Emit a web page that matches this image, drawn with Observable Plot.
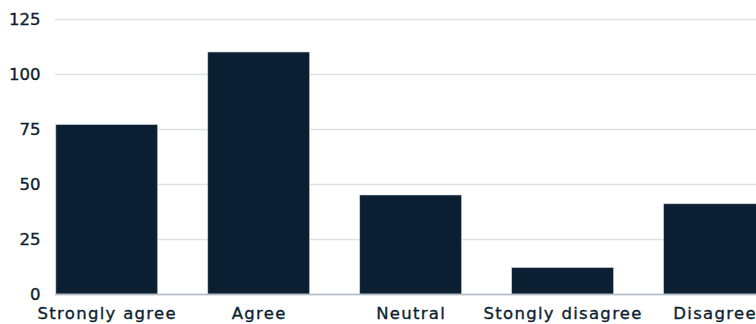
<!DOCTYPE html>
<html><head><meta charset="utf-8">
<script src="https://cdn.jsdelivr.net/npm/d3@7"></script>
<script src="https://cdn.jsdelivr.net/npm/@observablehq/plot@0.6"></script>
<style>
body{margin:0;background:#fff;overflow:hidden}
svg{overflow:hidden}
g[aria-label="x-axis tick label"] text{letter-spacing:1.3px}
g[aria-label="x-axis tick label"] text, g[aria-label="y-axis tick label"] text{stroke:#0b1f33;stroke-width:0.35px}
</style>
</head><body><div id="chart"></div>
<script>
const categories = ["Strongly agree", "Agree", "Neutral", "Stongly disagree", "Disagree"];
const values = [77, 110, 45, 12, 41];
const yTicks = [0, 25, 50, 75, 100, 125];
const data = categories.map((c, i) => ({category: c, value: values[i]}));
const ink = "#0b1f33";
const chart = Plot.plot({
  width: 756, height: 324,
  marginTop: 19, marginBottom: 30, marginLeft: 55, marginRight: 0,
  style: {fontFamily: "'DejaVu Sans', sans-serif", fontSize: "16px", color: ink, background: "#fff", maxWidth: "none"},
  x: {domain: categories, range: [5.7, 815.6], padding: 0.33, round: false, label: null},
  y: {domain: [0, 125], label: null},
  marks: [
    Plot.gridY(yTicks, {stroke: "#dde1e6", strokeOpacity: 1, strokeWidth: 1.5}),
    Plot.barY(data, {x: "category", y: "value", fill: "#0b1f32", stroke: "#c9d0d8", strokeWidth: 0.6}),
    Plot.ruleY([0], {stroke: "#b3bac3", strokeWidth: 1.5}),
    Plot.axisY(yTicks, {tickSize: 0, tickPadding: 15, label: null, fill: ink, fontSize: 16.5}),
    Plot.axisX({tickSize: 0, tickPadding: 13, label: null, fill: ink, fontSize: 16.5})
  ]
});
document.getElementById("chart").append(chart);
</script>
</body></html>
